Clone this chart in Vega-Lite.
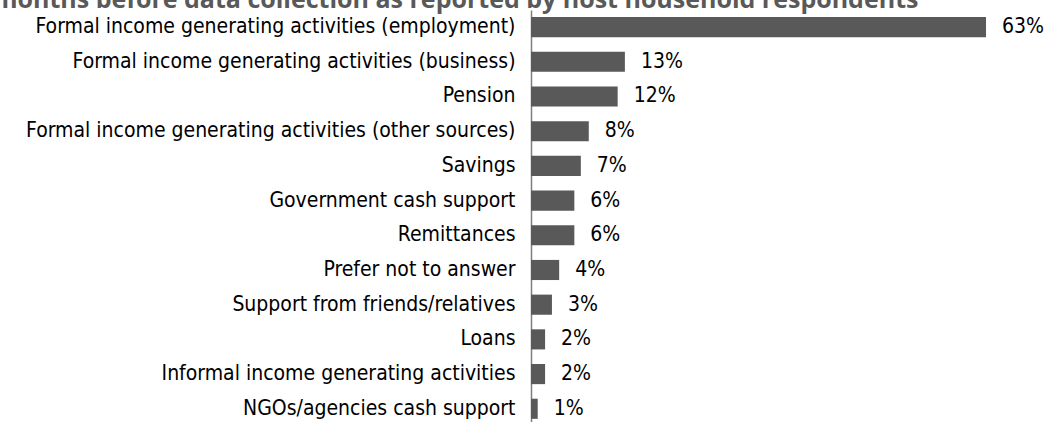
{
  "$schema": "https://vega.github.io/schema/vega-lite/v6.json",
  "width": 518,
  "height": 412,
  "autosize": "none",
  "padding": {"left": 531, "top": 10, "right": 0, "bottom": 0},
  "background": "white",
  "title": {
    "text": "months before data collection as reported by host household respondents",
    "anchor": "start",
    "frame": "group",
    "font": "Open Sans",
    "fontSize": 25,
    "fontWeight": "bold",
    "color": "#595959",
    "baseline": "alphabetic",
    "offset": 0,
    "dy": 23,
    "dx": -538
  },
  "data": {
    "values": [
      {"source": "Formal income generating activities (employment)", "pct": 63, "label": "63%"},
      {"source": "Formal income generating activities (business)", "pct": 13, "label": "13%"},
      {"source": "Pension", "pct": 12, "label": "12%"},
      {"source": "Formal income generating activities (other sources)", "pct": 8, "label": "8%"},
      {"source": "Savings", "pct": 6.9, "label": "7%"},
      {"source": "Government cash support", "pct": 6, "label": "6%"},
      {"source": "Remittances", "pct": 6, "label": "6%"},
      {"source": "Prefer not to answer", "pct": 3.9, "label": "4%"},
      {"source": "Support from friends/relatives", "pct": 2.9, "label": "3%"},
      {"source": "Loans", "pct": 1.95, "label": "2%"},
      {"source": "Informal income generating activities", "pct": 1.95, "label": "2%"},
      {"source": "NGOs/agencies cash support", "pct": 0.93, "label": "1%"}
    ]
  },
  "encoding": {
    "y": {
      "field": "source",
      "type": "nominal",
      "sort": null,
      "scale": {"paddingInner": 0.42, "paddingOuter": 0.147, "align": 0.69},
      "axis": {
        "title": null,
        "ticks": false,
        "labelPadding": 16,
        "labelFont": "DejaVu Sans Condensed",
        "labelFontSize": 21,
        "labelColor": "black",
        "domainColor": "#7f7f7f",
        "domainWidth": 1.5,
        "labelLimit": 0,
        "grid": false
      }
    },
    "x": {
      "field": "pct",
      "type": "quantitative",
      "scale": {"domain": [0, 71.72]},
      "axis": null
    }
  },
  "layer": [
    {"mark": {"type": "bar", "color": "#595959"}},
    {
      "mark": {"type": "text", "align": "left", "baseline": "middle", "dx": 16, "font": "DejaVu Sans Condensed", "fontSize": 21, "color": "black"},
      "encoding": {"text": {"field": "label"}}
    }
  ],
  "config": {"view": {"stroke": null}}
}
